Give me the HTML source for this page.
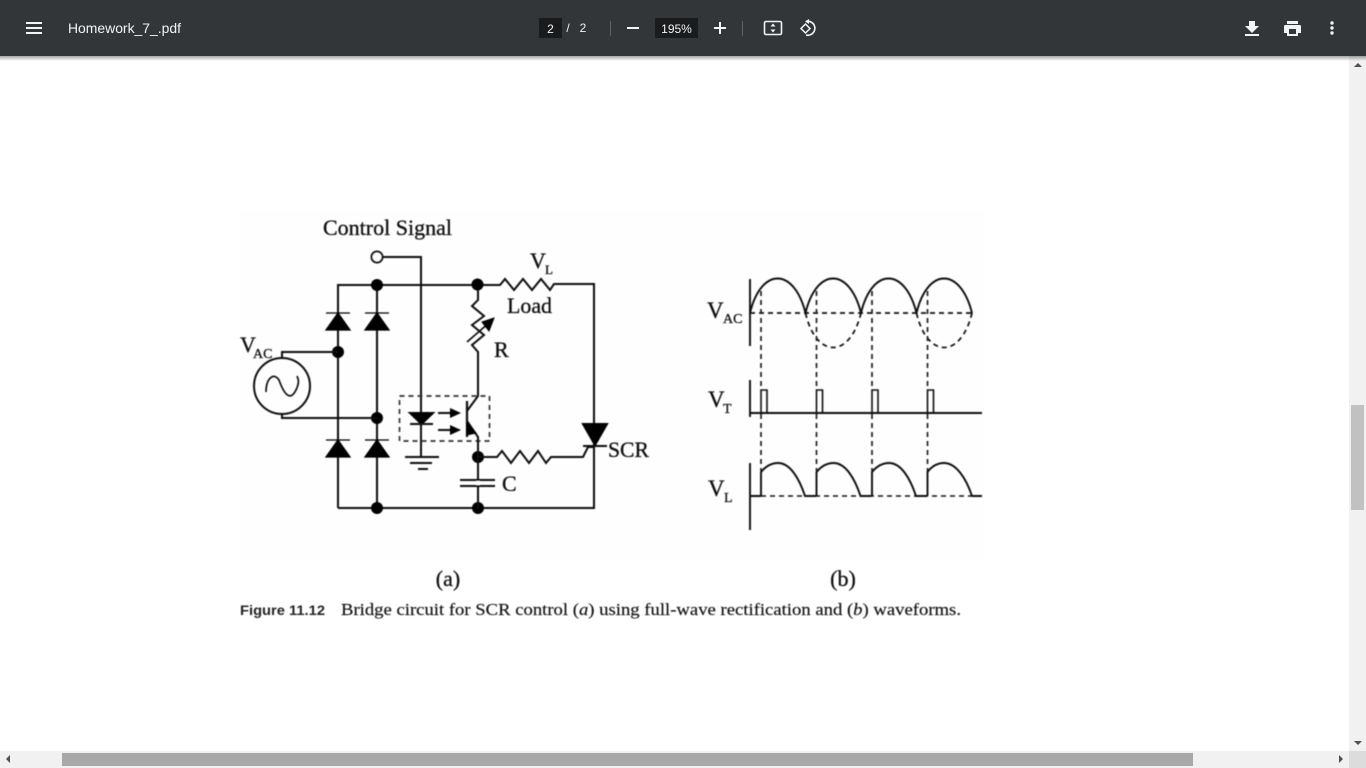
<!DOCTYPE html>
<html><head><meta charset="utf-8"><title>Homework_7_.pdf</title>
<style>
html,body{margin:0;padding:0;width:1366px;height:768px;overflow:hidden;background:#fff}
svg{display:block}
.s{font-family:"Liberation Serif",serif;fill:#111;stroke:#111;stroke-width:.3px}
.u{font-family:"Liberation Sans",sans-serif;fill:#f1f3f4}
</style></head><body>
<svg width="1366" height="768" viewBox="0 0 1366 768" xmlns="http://www.w3.org/2000/svg">
<defs>
<linearGradient id="sh" x1="0" y1="0" x2="0" y2="1"><stop offset="0" stop-color="#000" stop-opacity=".35"/><stop offset="1" stop-color="#000" stop-opacity="0"/></linearGradient>
<filter id="b" x="-5%" y="-5%" width="110%" height="110%"><feGaussianBlur stdDeviation="0.55"/></filter>
<filter id="b2" x="-5%" y="-5%" width="110%" height="110%"><feGaussianBlur stdDeviation="0.4"/></filter>
<g id="pulse"><path d="M761 413V390H767V413" fill="none" stroke="#111" stroke-width="1.6"/></g>
<g id="vl"><path d="M761 496V472C766 466 771 463 778 463C790 463 799 478 805 496H816" fill="none" stroke="#111" stroke-width="1.9"/></g>
<g id="ac"><path d="M750 313C761 267 794 267 805.500 313" fill="none" stroke="#111" stroke-width="1.9"/></g>
<g id="dip"><path d="M805.500 313C816 359 850 359 861 313" fill="none" stroke="#111" stroke-width="1.7" stroke-dasharray="5 4"/></g>
<g id="diode"><path d="M326 313H350M338 313L326 330H350Z" fill="#000" stroke="#000" stroke-width="1.3"/></g>
</defs>

<rect x="240" y="210" width="745" height="350" fill="#fefefe"/>
<g filter="url(#b)" fill="none" stroke="#111" stroke-width="2">
  <path d="M383 257H421V457"/>
  <path d="M338 508V285H500L505 279L514 290L523 279L532 290L541 279L550 290L554 284H594V508H338"/>
  <path d="M377 285V508"/>
  <use href="#diode"/><use href="#diode" x="39"/>
  <use href="#diode" y="127"/><use href="#diode" x="39" y="127"/>
  <circle cx="377" cy="257" r="5.500" fill="#fff"/>
  <g fill="#000" stroke="none">
    <circle cx="377" cy="285" r="6"/><circle cx="477.500" cy="284.500" r="6"/>
    <circle cx="338" cy="352" r="6"/><circle cx="377" cy="418" r="6"/>
    <circle cx="478" cy="457" r="6"/><circle cx="377" cy="508" r="6"/><circle cx="478" cy="508" r="6"/>
  </g>
  <path d="M338 352H282V358"/>
  <circle cx="282" cy="386" r="28"/>
  <path d="M282 414V418H377"/>
  <path d="M266 392C266 378 274 372 279 380C284 394 290 402 296 390C300 382 298 378 297 376" stroke-width="1.700"/>
  <path d="M478 290V300L472 306L484 316L472 325L484 335L472 345L478 352V396L467 411"/>
  <path d="M467 342L490 322" stroke-width="1.700"/>
  <path d="M494 318L482 322L489 331Z" fill="#000" stroke="#000" stroke-width="1"/>
  <rect x="399.500" y="396" width="90" height="45" stroke="#333" stroke-width="1.700" stroke-dasharray="5 4"/>
  <path d="M410 413H433L421.500 424Z" fill="#000" stroke="#000"/>
  <path d="M410 424H433"/>
  <path d="M405 457H439M410 463H432M418 469H428"/>
  <path d="M438 413H452M438 430H452"/>
  <path d="M450 408L461 413L450 418ZM450 425L461 430L450 435Z" fill="#000" stroke="none"/>
  <path d="M467 401V437" stroke-width="2.200"/>
  <path d="M467 421L478 437V508"/>
  <path d="M467 423L476 433L467 435Z" fill="#000" stroke="#000" stroke-width="1"/>
  <path d="M478 457H497L502 451L511 463L520 451L529 463L538 451L546 463L551 457H583L588 447H595"/>
  <path d="M583 424H607L595 445Z" fill="#000" stroke="#000"/>
  <path d="M583 446H607"/>
  <path d="M460 480H495M460 486H495" fill="none"/>
  <path d="M478 481V485" stroke="#fff" stroke-width="3"/>
</g>

<g filter="url(#b)" fill="none" stroke="#111" stroke-width="1.900">
  <path d="M750 279V346M750 380V417M750 463V530"/>
  <path d="M750 313H975" stroke-dasharray="5 4" stroke-width="1.700"/>
  <use href="#ac"/><use href="#ac" x="55.500"/><use href="#ac" x="111"/><use href="#ac" x="166.500"/>
  <use href="#dip"/><use href="#dip" x="111"/>
  <g stroke-dasharray="5 4" stroke-width="1.700" stroke="#222">
    <path d="M761 291V390M761 414V471"/>
    <path d="M816.500 291V390M816.500 414V471"/>
    <path d="M872 291V390M872 414V471"/>
    <path d="M927.500 291V390M927.500 414V471"/>
  </g>
  <path d="M750 413H982"/>
  <use href="#pulse"/><use href="#pulse" x="55.500"/><use href="#pulse" x="111"/><use href="#pulse" x="166.500"/>
  <path d="M750 496H761M972 496H982"/>
  <path d="M761 496H982" stroke-dasharray="5 4" stroke-width="1.500"/>
  <use href="#vl"/><use href="#vl" x="55.500"/><use href="#vl" x="111"/>
  <path d="M927.500 496V472C932 466 937 463 944 463C956 463 966 478 972 496"/>
</g>

<g filter="url(#b2)">
  <text class="s" x="323" y="235" font-size="22" textLength="129" lengthAdjust="spacingAndGlyphs">Control Signal</text>
  <text class="s" x="240" y="352" font-size="22">V</text><text class="s" x="253" y="358" font-size="14">AC</text>
  <text class="s" x="530" y="268" font-size="22">V</text><text class="s" x="545" y="274" font-size="13">L</text>
  <text class="s" x="507" y="313" font-size="22" textLength="45" lengthAdjust="spacingAndGlyphs">Load</text>
  <text class="s" x="494" y="357" font-size="22">R</text>
  <text class="s" x="502" y="491" font-size="22">C</text>
  <text class="s" x="608" y="457" font-size="22" textLength="41" lengthAdjust="spacingAndGlyphs">SCR</text>
  <text class="s" x="707" y="318" font-size="23">V</text><text class="s" x="723" y="323" font-size="14">AC</text>
  <text class="s" x="708" y="407" font-size="23">V</text><text class="s" x="723" y="413" font-size="14">T</text>
  <text class="s" x="708" y="496" font-size="23">V</text><text class="s" x="724" y="502" font-size="14">L</text>
  <text class="s" x="448" y="586" font-size="22" text-anchor="middle">(a)</text>
  <text class="s" x="843" y="586" font-size="22" text-anchor="middle">(b)</text>
  <text x="240" y="615" font-family="'Liberation Sans',sans-serif" font-weight="bold" font-size="14" fill="#222" textLength="85" lengthAdjust="spacingAndGlyphs">Figure 11.12</text>
  <text class="s" x="341" y="615" font-size="17" textLength="620" lengthAdjust="spacingAndGlyphs" style="stroke-width:.15px">Bridge circuit for SCR control (<tspan font-style="italic">a</tspan>) using full-wave rectification and (<tspan font-style="italic">b</tspan>) waveforms.</text>
</g>

<rect x="1349" y="56" width="17" height="695" fill="#f1f1f1"/>
<rect x="1351" y="405" width="13" height="105" fill="#c1c1c1"/>
<path d="M1354 67H1362L1358 63Z" fill="#505050"/>
<path d="M1354 741H1362L1358 745Z" fill="#505050"/>
<rect x="0" y="751" width="1349" height="17" fill="#f1f1f1"/>
<rect x="62" y="753" width="1131" height="13" fill="#a8a8a8"/>
<rect x="1349" y="751" width="17" height="17" fill="#dcdcdc"/>
<path d="M10 755V763L6 759Z" fill="#505050"/>
<path d="M1339 755V763L1343 759Z" fill="#505050"/>

<rect x="0" y="56" width="1366" height="5" fill="url(#sh)"/>
<rect x="0" y="0" width="1366" height="56" fill="#323639"/>
<path d="M26 23H42M26 28H42M26 33H42" stroke="#f1f3f4" stroke-width="2"/>
<text class="u" x="68" y="33" font-size="14" textLength="113" lengthAdjust="spacingAndGlyphs">Homework_7_.pdf</text>
<rect x="539" y="18" width="23" height="20" fill="#191b1c"/>
<text class="u" x="550.500" y="33" font-size="12" text-anchor="middle">2</text>
<text class="u" x="568" y="32" font-size="12" text-anchor="middle">/</text>
<text class="u" x="583" y="32" font-size="12" text-anchor="middle">2</text>
<path d="M610.500 21V36M742.500 21V36" stroke="#5f6368" stroke-width="1"/>
<path d="M627 28H639" stroke="#f1f3f4" stroke-width="2"/>
<rect x="655" y="18" width="43" height="20" fill="#191b1c"/>
<text class="u" x="676.500" y="33" font-size="12" text-anchor="middle">195%</text>
<path d="M714 28H726M720 22V34" stroke="#f1f3f4" stroke-width="2"/>
<rect x="764.500" y="21.500" width="17" height="13" rx="1.500" fill="none" stroke="#f1f3f4" stroke-width="1.600"/>
<path d="M770.500 26.500L773 23.500L775.500 26.500ZM770.500 29.500L773 32.500L775.500 29.500Z" fill="#f1f3f4"/>
<path d="M806 21.500A7 7 0 1 1 806 35" fill="none" stroke="#f1f3f4" stroke-width="1.600"/>
<path d="M809 19V24L805 21.500Z" fill="#f1f3f4"/>
<path d="M801 28.500L805.500 24L810 28.500L805.500 33Z" fill="#323639" stroke="#f1f3f4" stroke-width="1.500"/>
<path d="M1249 21H1255V26H1259L1252 33L1245 26H1249ZM1245 34H1259V36H1245Z" fill="#f1f3f4"/>
<path d="M1287 21H1298V24H1287ZM1285 25H1300Q1301 25 1301 27V33H1298V36H1287V33H1284V27Q1284 25 1285 25Z" fill="#f1f3f4"/>
<rect x="1289" y="29" width="7" height="5" fill="#323639"/>
<circle cx="1332" cy="23" r="1.700" fill="#f1f3f4"/><circle cx="1332" cy="28" r="1.700" fill="#f1f3f4"/><circle cx="1332" cy="33" r="1.700" fill="#f1f3f4"/>
</svg>
</body></html>
